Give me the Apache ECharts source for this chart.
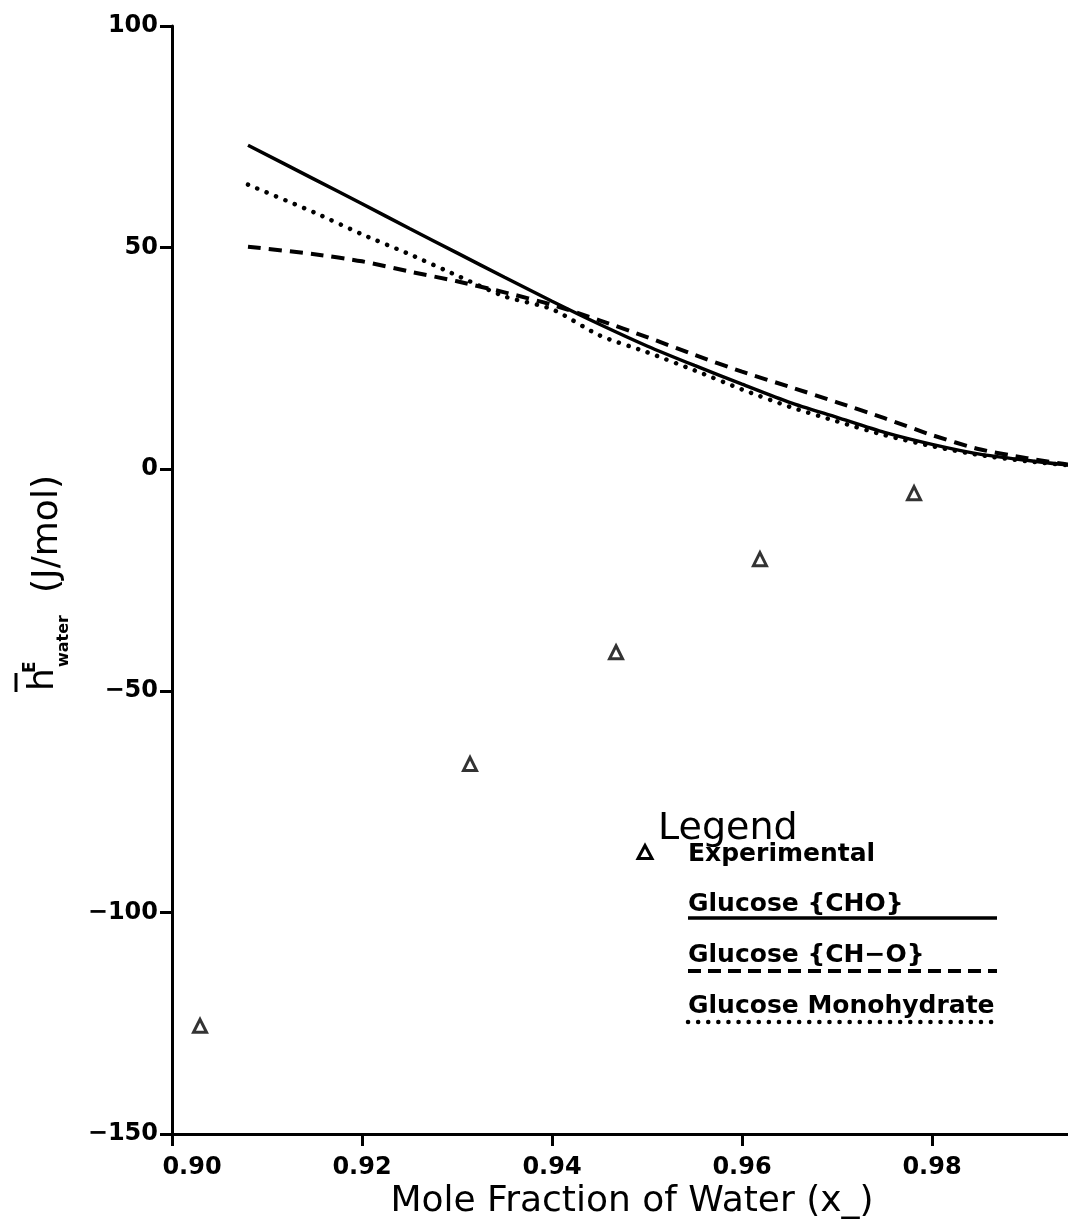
<!DOCTYPE html>
<html>
<head>
<meta charset="utf-8">
<script src="https://cdn.jsdelivr.net/npm/echarts@6/dist/echarts.min.js"></script>
<style>
  html, body { margin: 0; padding: 0; background: #fff; }
  #chart { width: 1068px; height: 1222px; }
</style>
</head>
<body>
<div id="chart"></div>
<script>
// Mole fraction of water where the model curves are evaluated
const moleFraction = [0.908, 0.915, 0.920, 0.925, 0.930, 0.935, 0.940, 0.945, 0.950, 0.955,
                      0.960, 0.965, 0.970, 0.975, 0.980, 0.985, 0.990, 0.995, 1.000];

// Partial molar excess enthalpy of water (J/mol) for each model
const glucoseCHO  = [73.1, 65.4, 59.9, 54.3, 48.8, 43.3, 37.9, 32.7, 27.8, 23.4,
                     19.2, 15.1, 11.7, 8.3, 5.6, 3.4, 2.0, 0.8, 0.3];
const glucoseCHO2 = [50.2, 48.5, 46.9, 44.6, 42.4, 39.9, 37.1, 33.6, 29.8, 25.8,
                     22.0, 18.6, 15.1, 11.5, 7.7, 4.5, 2.5, 0.9, 0.3];
const monohydrate = [64.2, 57.9, 53.0, 48.5, 43.7, 39.0, 36.1, 30.2, 26.4, 22.3,
                     18.0, 14.1, 10.8, 7.7, 5.2, 3.2, 1.8, 0.8, 0.3];

// Experimental measurements
const expX = [0.90295, 0.93137, 0.94674, 0.96189, 0.97811];
const expY = [-125.6, -66.5, -41.3, -20.3, -5.4];

// Axis ranges
const xMin = 0.90, xMax = 1.00, xStep = 0.02;
const yMin = -150, yMax = 100, yStep = 50;

const pair = (xs, ys) => xs.map((x, i) => [x, ys[i]]);

const INK = '#000';
const FONT = 'DejaVu Sans';

const chart = echarts.init(document.getElementById('chart'), null, { renderer: 'canvas' });

const lineSeries = (name, values, lineStyle) => ({
  name,
  type: 'line',
  data: pair(moleFraction, values),
  showSymbol: false,
  smooth: 0.25,
  lineStyle: Object.assign({ color: INK }, lineStyle),
  silent: true,
  z: 3
});

// Legend block: title, marker row and three captioned line samples
const legendLeft = 688, legendRight = 997;
const legendFont = 'bold 25px "' + FONT + '"';
const legendGraphics = [
  { type: 'text', left: 658, top: 810,
    style: { text: 'Legend', font: 'normal 38px "' + FONT + '"', fill: INK } },
  { type: 'polygon', shape: { points: [[645, 845.5], [652, 858.5], [638, 858.5]] },
    style: { fill: '#fff', stroke: INK, lineWidth: 3 } },
  { type: 'text', x: legendLeft, y: 854,
    style: { text: 'Experimental', font: legendFont, fill: INK, verticalAlign: 'middle' } },
  { type: 'text', x: legendLeft, y: 904,
    style: { text: 'Glucose {CHO}', font: legendFont, fill: INK, verticalAlign: 'middle' } },
  { type: 'line', shape: { x1: legendLeft, y1: 918, x2: legendRight, y2: 918 },
    style: { stroke: INK, lineWidth: 3.5 } },
  { type: 'text', x: legendLeft, y: 955,
    style: { text: 'Glucose {CH\u2212O}', font: legendFont, fill: INK, verticalAlign: 'middle' } },
  { type: 'line', shape: { x1: legendLeft, y1: 971, x2: legendRight, y2: 971 },
    style: { stroke: INK, lineWidth: 4, lineDash: [13, 7] } },
  { type: 'text', x: legendLeft, y: 1006,
    style: { text: 'Glucose Monohydrate', font: legendFont, fill: INK, verticalAlign: 'middle' } },
  { type: 'line', shape: { x1: legendLeft, y1: 1022, x2: legendRight, y2: 1022 },
    style: { stroke: INK, lineWidth: 4.5, lineDash: [0.1, 10], lineCap: 'round' } }
];

// Y axis title, written bottom-to-top: h-bar with E superscript and "water" subscript, then units
const yTitle = {
  type: 'group',
  x: 48, y: 700,
  rotation: Math.PI / 2,
  children: [
    { type: 'line', shape: { x1: 8, y1: -32, x2: 27, y2: -32 }, style: { stroke: INK, lineWidth: 3 } },
    { type: 'text', x: 9, y: -4,
      style: { text: 'h', font: 'normal 36px "' + FONT + '"', fill: INK, verticalAlign: 'middle' } },
    { type: 'text', x: 27, y: -17,
      style: { text: 'E', font: 'bold 17px "' + FONT + '"', fill: INK, verticalAlign: 'middle' } },
    { type: 'text', x: 33, y: 16,
      style: { text: 'water', font: 'bold 16px "' + FONT + '"', fill: INK, verticalAlign: 'middle' } },
    { type: 'text', x: 107, y: 0,
      style: { text: '(J/mol)', font: 'normal 36px "' + FONT + '"', fill: INK, verticalAlign: 'middle' } }
  ]
};

const xTitle = {
  type: 'text', x: 632, y: 1202,
  style: { text: 'Mole Fraction of Water (x_)', font: 'normal 36px "' + FONT + '"', fill: INK,
           align: 'center', verticalAlign: 'middle' }
};

const minus = v => (v < 0 ? '\u2212' + Math.abs(v) : String(v));

chart.setOption({
  backgroundColor: '#fff',
  animation: false,
  grid: { left: 172, top: 26, bottom: 88, right: -54, containLabel: false, outerBoundsMode: 'none' },
  xAxis: {
    type: 'value',
    min: xMin, max: xMax, interval: xStep,
    axisLine: { show: true, onZero: false, lineStyle: { color: INK, width: 3 } },
    axisTick: { show: true, length: 12, lineStyle: { color: INK, width: 3 } },
    splitLine: { show: false },
    axisLabel: {
      margin: 22,
      color: INK,
      fontFamily: FONT, fontWeight: 'bold', fontSize: 24,
      showMaxLabel: false,
      formatter: v => (Math.abs(v - xMin) < 1e-9 ? '{first|' + v.toFixed(2) + '}' : v.toFixed(2)),
      rich: { first: { padding: [0, 0, 0, 40], fontFamily: FONT, fontWeight: 'bold', fontSize: 24, color: INK } }
    }
  },
  yAxis: {
    type: 'value',
    min: yMin, max: yMax, interval: yStep,
    axisLine: { show: true, onZero: false, lineStyle: { color: INK, width: 3 } },
    axisTick: { show: true, length: 12, lineStyle: { color: INK, width: 3 } },
    splitLine: { show: false },
    axisLabel: {
      margin: 14,
      color: INK,
      fontFamily: FONT, fontWeight: 'bold', fontSize: 24,
      formatter: minus
    }
  },
  series: [
    lineSeries('Glucose {CHO}', glucoseCHO, { width: 3.5, type: 'solid' }),
    lineSeries('Glucose {CH\u2212O}', glucoseCHO2, { width: 4, type: [13, 8] }),
    lineSeries('Glucose Monohydrate', monohydrate, { width: 4.5, type: [0.1, 10], cap: 'round' }),
    {
      name: 'Experimental',
      type: 'scatter',
      data: pair(expX, expY),
      symbol: 'triangle',
      symbolSize: 13,
      itemStyle: { color: '#fff', borderColor: INK, borderWidth: 3 },
      silent: true,
      z: 4
    }
  ],
  graphic: [yTitle, xTitle].concat(legendGraphics)
});
</script>
</body>
</html>
